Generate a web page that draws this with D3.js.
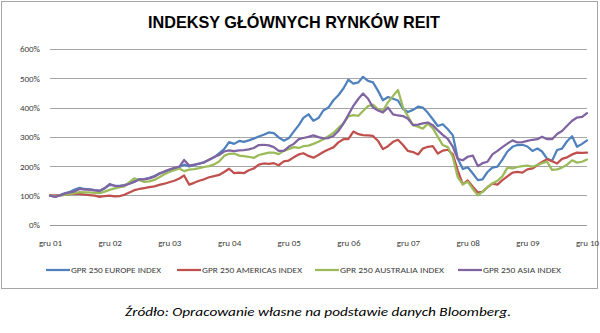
<!DOCTYPE html>
<html>
<head>
<meta charset="utf-8">
<script src="https://cdn.jsdelivr.net/npm/d3@7/dist/d3.min.js"></script>
<style>
  html, body { margin: 0; padding: 0; background: #fff; }
  svg { display: block; }
</style>
</head>
<body>
<svg id="chart" width="600" height="333"></svg>
<script>
// ---- data ----
const title = "INDEKSY GŁÓWNYCH RYNKÓW REIT";
const source = "Źródło: Opracowanie własne na podstawie danych Bloomberg.";
const seriesNames = ["GPR 250 EUROPE INDEX", "GPR 250 AMERICAS INDEX", "GPR 250 AUSTRALIA INDEX", "GPR 250 ASIA INDEX"];
const seriesColors = ["#4F81BD", "#C0504D", "#9BBB59", "#8064A2"];
const startDate = new Date(2001, 11, 1); // gru 01
const yTicks = [0, 100, 200, 300, 400, 500, 600];
const xTickYears = [2001, 2002, 2003, 2004, 2005, 2006, 2007, 2008, 2009, 2010];

const europe = [
  100, 96, 101, 107, 112, 120, 126, 122, 121, 118,
  116, 124, 136, 133, 133, 135, 141, 148, 155, 156,
  160, 166, 175, 180, 187, 192, 197, 205, 199, 203,
  208, 213, 222, 230, 244, 258, 282, 276, 286, 283,
  288, 294, 301, 307, 315, 313, 298, 287, 295, 318,
  340, 365, 377, 355, 364, 390, 400, 425, 442, 465,
  495, 482, 486, 505, 491, 486, 457, 425, 436, 430,
  424, 395, 385, 392, 403, 400, 382, 360, 337, 343,
  326, 305, 225, 190, 196, 175, 152, 155, 180, 195,
  198, 222, 250, 266, 272, 273, 267, 252, 260, 250,
  225, 218, 255, 260, 285, 302, 266, 276, 288
];
const americas = [
  99, 100, 101, 102, 104, 106, 105, 103, 101, 99,
  95, 98, 99, 97, 98, 102, 110, 118, 122, 125,
  128, 131, 136, 140, 145, 150, 158, 168, 137, 143,
  150, 155, 162, 166, 170, 180, 191, 176, 178, 176,
  186, 192, 205, 209, 208, 210, 203, 216, 219, 230,
  240, 244, 235, 229, 238, 248, 257, 264, 281, 292,
  292, 318, 309, 306, 305, 303, 286, 258, 268, 283,
  290, 272, 252, 248, 240, 260, 266, 268, 243, 253,
  256, 240, 185, 138, 151, 130, 110, 112, 128, 140,
  137, 152, 165, 178, 180, 178, 189, 192, 204, 214,
  224, 217, 209, 225, 230, 240, 246, 245, 246
];
const australia = [
  99, 98, 100, 102, 104, 108, 111, 110, 110, 109,
  108, 113, 119, 124, 128, 131, 145, 158, 152, 146,
  148, 153, 162, 172, 180, 186, 192, 183, 188, 190,
  193, 197, 200, 206, 216, 235, 242, 243, 236, 234,
  232, 228, 238, 242, 246, 246, 241, 252, 258, 265,
  262, 268, 270, 276, 283, 292, 302, 313, 330, 346,
  370, 374, 372, 388, 405, 410, 394, 389, 418, 440,
  460, 400, 370, 340, 335, 328, 345, 330, 300, 272,
  265, 230, 162, 138, 147, 122, 100, 112, 128, 141,
  150, 165, 195, 192, 197, 200, 202, 198, 204, 210,
  215, 187, 189, 195, 205, 220, 212, 215, 223
];
const asia = [
  99, 95, 100, 106, 110, 114, 122, 120, 120, 117,
  115, 125, 139, 133, 132, 134, 140, 146, 155, 155,
  158, 164, 174, 182, 188, 194, 198, 221, 202, 205,
  209, 213, 222, 231, 238, 250, 254, 251, 254, 255,
  257, 262, 272, 273, 271, 265, 252, 252, 266, 276,
  292, 296, 300, 305, 299, 295, 296, 303, 320, 345,
  375, 406, 430, 448, 430, 400, 390, 383, 400, 377,
  373, 371, 362, 340, 342, 346, 349, 340, 322, 307,
  293, 266, 225, 220, 232, 236, 200, 210, 215, 240,
  252, 265, 277, 288, 281, 282, 286, 290, 292, 300,
  292, 292, 310, 320, 338, 355, 366, 368, 381
];
const seriesValues = [europe, americas, australia, asia];

// ---- chart ----
const svg = d3.select("#chart");
const fontAxis = "Carlito, 'Liberation Sans', Arial, sans-serif";

// outer frame
svg.append("rect")
  .attr("x", 1.5).attr("y", 1.5).attr("width", 596).attr("height", 287)
  .attr("fill", "#fff").attr("stroke", "#a6a6a6").attr("stroke-width", 1);

const dates = europe.map((_, i) => d3.timeMonth.offset(startDate, i));
const x = d3.scaleTime()
  .domain([dates[0], dates[dates.length - 1]])
  .range([50, 587]);
const y = d3.scaleLinear().domain([0, 600]).range([224.7, 49]);

// gridlines
svg.append("g")
  .selectAll("line").data(yTicks).join("line")
  .attr("x1", 50).attr("x2", 587)
  .attr("y1", d => Math.round(y(d)) + 0.5).attr("y2", d => Math.round(y(d)) + 0.5)
  .attr("stroke", d => d === 0 ? "#9a9a9a" : "#a6a6a6").attr("stroke-width", 1);

// y axis labels
const yAxis = d3.axisLeft(y).tickValues(yTicks).tickFormat(d => d + "%").tickSize(0).tickPadding(0);
const gy = svg.append("g").attr("transform", "translate(40,0)").call(yAxis);
gy.select(".domain").remove();
gy.selectAll("text")
  .attr("font-family", fontAxis).attr("font-size", 9).attr("fill", "#404040");

// x axis labels
const xTickDates = xTickYears.map(yr => new Date(yr, 11, 1));
const xAxis = d3.axisBottom(x).tickValues(xTickDates)
  .tickFormat(d => "gru " + String(d.getFullYear() % 100).padStart(2, "0"))
  .tickSize(0).tickPadding(0);
const gx = svg.append("g").attr("transform", "translate(0,240)").call(xAxis);
gx.select(".domain").remove();
gx.selectAll("text")
  .attr("font-family", fontAxis).attr("font-size", 9).attr("fill", "#404040");

// lines
const line = d3.line()
  .x((d, i) => x(dates[i]))
  .y(d => y(d));
svg.append("g").selectAll("path").data(seriesValues).join("path")
  .attr("d", d => line(d))
  .attr("fill", "none")
  .attr("stroke", (d, i) => seriesColors[i])
  .attr("stroke-width", 2.25)
  .attr("stroke-linejoin", "round")
  .attr("stroke-linecap", "round");

// title
svg.append("text")
  .attr("x", 294).attr("y", 28)
  .attr("text-anchor", "middle")
  .attr("font-family", "'Liberation Sans Narrow', 'Liberation Sans', Arial, sans-serif")
  .attr("font-weight", "bold").attr("font-size", 17)
  .attr("fill", "#000")
  .attr("textLength", 292).attr("lengthAdjust", "spacingAndGlyphs")
  .text(title);

// legend
const legendX = [46, 177, 315, 458];
const legendTextW = [90, 100, 104, 78];
const lg = svg.append("g").selectAll("g").data(seriesNames).join("g")
  .attr("transform", (d, i) => `translate(${legendX[i]},270)`);
lg.append("line")
  .attr("x1", 0).attr("x2", 24).attr("y1", 0).attr("y2", 0)
  .attr("stroke", (d, i) => seriesColors[i]).attr("stroke-width", 2.25);
lg.append("text")
  .attr("x", 25).attr("y", 3)
  .attr("font-family", fontAxis).attr("font-size", 7.5).attr("fill", "#404040")
  .attr("textLength", (d, i) => legendTextW[i]).attr("lengthAdjust", "spacingAndGlyphs")
  .text(d => d);

// source
svg.append("text")
  .attr("x", 318).attr("y", 316)
  .attr("text-anchor", "middle")
  .attr("font-family", fontAxis).attr("font-style", "italic").attr("font-size", 12.5)
  .attr("fill", "#000")
  .attr("textLength", 386).attr("lengthAdjust", "spacingAndGlyphs")
  .text(source);
</script>
</body>
</html>
